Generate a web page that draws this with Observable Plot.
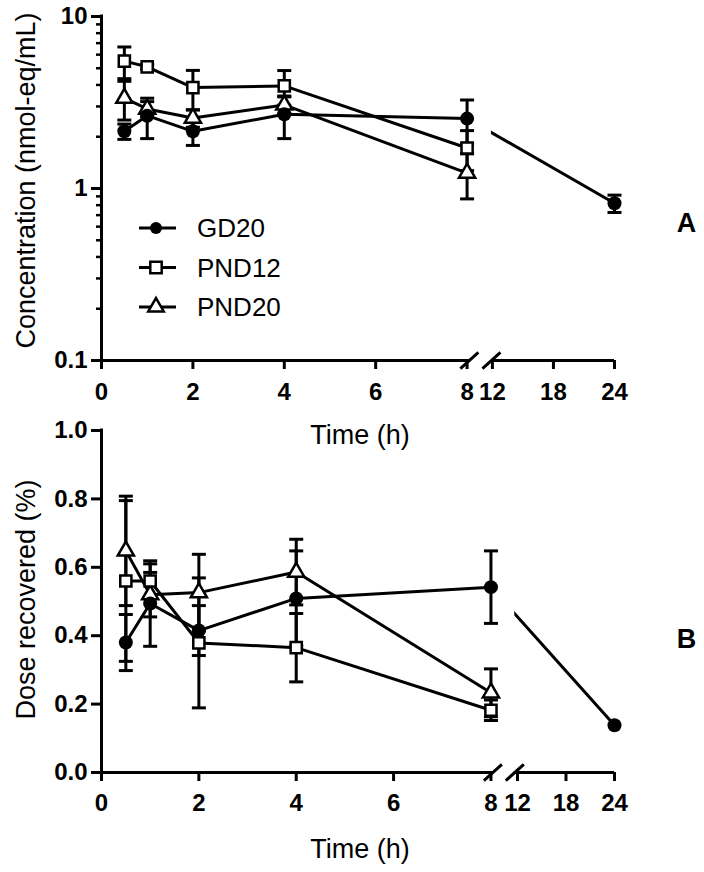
<!DOCTYPE html>
<html>
<head>
<meta charset="utf-8">
<script src="https://cdn.jsdelivr.net/npm/d3@7"></script>
<script src="https://cdn.jsdelivr.net/npm/@observablehq/plot@0.6"></script>
<style>
  body { margin: 0; background: #fff; }
  #wrap { position: relative; width: 704px; height: 872px; overflow: hidden; background: #fff;
          font-family: "Liberation Sans", Arial, sans-serif; color: #000; }
  #wrap > div, #wrap > svg { position: absolute; left: 0; }
</style>
</head>
<body>
<div id="wrap">
  <div id="pa" style="top:0px"></div>
  <div id="pb" style="top:420px"></div>
</div>
<script>
// ---------------- data ----------------
const seriesNames = ["GD20", "PND12", "PND20"];
const timeGD20 = [0.5, 1, 2, 4, 8, 24];
const timePND = [0.5, 1, 2, 4, 8];

// Panel A: concentration (nmol-eq/mL), mean and error
const concGD20 = [2.15, 2.65, 2.15, 2.7, 2.55, 0.82];
const concGD20Err = [0.22, 0.7, 0.37, 0.75, 0.72, 0.095];
const concPND12 = [5.5, 5.1, 3.86, 3.95, 1.72];
const concPND12Err = [1.15, 0.15, 1.0, 0.9, 0.45];
const concPND20 = [3.35, 2.9, 2.57, 3.06, 1.23];
const concPND20Err = [0.85, 0.3, 0.3, 0.35, 0.36];

// Panel B: dose recovered (%), mean and error
const doseGD20 = [0.38, 0.494, 0.415, 0.509, 0.542, 0.138];
const doseGD20Err = [0.082, 0.125, 0.073, 0.139, 0.106, 0];
const dosePND12 = [0.56, 0.56, 0.379, 0.365, 0.182];
const dosePND12Err = [0.235, 0.05, 0.19, 0.1, 0.03];
const dosePND20 = [0.648, 0.52, 0.526, 0.586, 0.233];
const dosePND20Err = [0.16, 0.065, 0.112, 0.096, 0.07];

// axis ticks
const xTickTimes = [0, 2, 4, 6, 8, 12, 18, 24];
const yTicksA = [0.1, 1, 10];
const yMinorTicksA = [0.2, 0.3, 0.4, 0.5, 0.6, 0.7, 0.8, 0.9, 2, 3, 4, 5, 6, 7, 8, 9];
const yTicksB = [0, 0.2, 0.4, 0.6, 0.8, 1.0];

// ---------------- helpers ----------------
function rows(s, times, vals, errs) {
  return times.map((t, i) => ({s, t, v: vals[i], e: errs[i]}));
}
const dataA = [
  ...rows("GD20", timeGD20, concGD20, concGD20Err),
  ...rows("PND12", timePND, concPND12, concPND12Err),
  ...rows("PND20", timePND, concPND20, concPND20Err)
];
const dataB = [
  ...rows("GD20", timeGD20, doseGD20, doseGD20Err),
  ...rows("PND12", timePND, dosePND12, dosePND12Err),
  ...rows("PND20", timePND, dosePND20, dosePND20Err)
];

const capSymbol = {draw(ctx, size) { const r = Math.sqrt(size / Math.PI); ctx.moveTo(-r, 0); ctx.lineTo(r, 0); }};
const slashSymbol = {draw(ctx, size) { const r = Math.sqrt(size / Math.PI); ctx.moveTo(-r, r * 0.9); ctx.lineTo(r, -r * 0.9); }};

const FONT = '"Liberation Sans", Arial, Helvetica, sans-serif';

function panel(cfg, data) {
  const brk = t => t <= 8 ? t : cfg.u12 + (t - 12) * (cfg.u24 - cfg.u12) / 12;
  const X = d => brk(d.t);
  const [y0, y1] = cfg.yDomain;
  const labelOf = new Map(xTickTimes.map(t => [brk(t), String(t)]));
  const withErr = data.filter(d => d.e > 0);
  const caps = withErr.flatMap(d => [{t: d.t, y: d.v - d.e}, {t: d.t, y: d.v + d.e}]);
  const bySeries = s => data.filter(d => d.s === s);
  const marks = [
    Plot.line(data, {x: X, y: "v", z: "s", stroke: "black", strokeWidth: 3}),
    Plot.rect([0], {x1: () => cfg.b1, x2: () => cfg.b2, y1: () => y0, y2: () => y1, fill: "white"}),
    // axis lines
    Plot.ruleX([0], {y1: () => y0, y2: () => y1, stroke: "black", strokeWidth: 3, strokeLinecap: "square"}),
    Plot.ruleY([y0], {x1: () => 0, x2: () => cfg.b1, stroke: "black", strokeWidth: 3}),
    Plot.ruleY([y0], {x1: () => cfg.b2, x2: () => cfg.u24, stroke: "black", strokeWidth: 3}),
    Plot.dot([cfg.b1, cfg.b2], {x: d => d, y: () => y0, symbol: slashSymbol, r: 9, stroke: "black", strokeWidth: 3, fill: "none"}),
    // axes
    Plot.axisX({ticks: xTickTimes.map(brk), tickFormat: u => labelOf.get(u), tickSize: 9, tickPadding: cfg.xPad,
      strokeWidth: 3, fontSize: 24, fontWeight: "bold", fontFamily: FONT, label: null}),
    Plot.axisY({ticks: cfg.yTicks, tickFormat: cfg.yFormat, tickSize: 10, tickPadding: 4,
      strokeWidth: 3, fontSize: 24, fontWeight: "bold", fontFamily: FONT, label: null}),
  ];
  if (cfg.yMinor) marks.push(Plot.axisY({ticks: cfg.yMinor, tickFormat: () => "", tickSize: 5, strokeWidth: 2.5, label: null}));
  marks.push(
    // error bars
    Plot.ruleX(withErr, {x: X, y1: d => d.v - d.e, y2: d => d.v + d.e, stroke: "black", strokeWidth: 3}),
    Plot.dot(caps, {x: X, y: "y", symbol: capSymbol, r: 7, stroke: "black", strokeWidth: 3, fill: "none"}),
    // markers
    Plot.dot(bySeries("PND20"), {x: X, y: "v", symbol: "triangle", r: 6, fill: "white", stroke: "black", strokeWidth: 2.5}),
    Plot.dot(bySeries("PND12"), {x: X, y: "v", symbol: "square", r: 6.3, fill: "white", stroke: "black", strokeWidth: 2.5}),
    Plot.dot(bySeries("GD20"), {x: X, y: "v", symbol: "circle", r: 7, fill: "black", stroke: "none"}),
    // titles
    Plot.text([cfg.xTitle], {frameAnchor: "bottom", dx: 2, dy: cfg.xTitleDy, fontSize: 27, fontFamily: FONT, lineAnchor: "middle", textAnchor: "middle", fill: "black"}),
    Plot.text([cfg.yTitle], {frameAnchor: "left", dx: -75, dy: cfg.yTitleDy, rotate: -90, fontSize: 27, fontFamily: FONT, lineAnchor: "middle", textAnchor: "middle", fill: "black"}),
    Plot.text([cfg.tag], {frameAnchor: "right", dx: 72, dy: cfg.tagDy, fontSize: 27, fontWeight: "bold", fontFamily: FONT, lineAnchor: "middle", textAnchor: "middle", fill: "black"})
  );
  return Plot.plot({
    width: 704, height: cfg.height,
    marginTop: cfg.mt, marginBottom: cfg.mb, marginLeft: 101, marginRight: 90,
    style: {background: "transparent", overflow: "visible", color: "black", fontFamily: FONT},
    x: {domain: [0, cfg.u24]},
    y: {type: cfg.yType, domain: cfg.yDomain},
    marks
  });
}

const pa = panel({
  height: 450, mt: 16, mb: 90,
  u12: 8.554, u24: 11.226, b1: 8.05, b2: 8.533,
  yType: "log", yDomain: [0.1, 10], yTicks: yTicksA, yMinor: yMinorTicksA, yFormat: d => String(d),
  xPad: 13, xTitle: "Time (h)", xTitleDy: 75,
  yTitle: "Concentration (nmol-eq/mL)", yTitleDy: -8, tag: "A", tagDy: 35
}, dataA);
document.getElementById("pa").appendChild(pa);

const pb = panel({
  height: 452, mt: 10, mb: 100,
  u12: 8.545, u24: 10.538, b1: 8.04, b2: 8.49,
  yType: "linear", yDomain: [0, 1], yTicks: yTicksB, yMinor: null, yFormat: d => d.toFixed(1),
  xPad: 12, xTitle: "Time (h)", xTitleDy: 77,
  yTitle: "Dose recovered (%)", yTitleDy: -2, tag: "B", tagDy: 38
}, dataB);
document.getElementById("pb").appendChild(pb);

// ---------------- legend (inside panel A) ----------------
const legendSym = {GD20: d3.symbolCircle, PND12: d3.symbolSquare, PND20: d3.symbolTriangle};
const legendSize = {GD20: Math.PI * 36, PND12: 130, PND20: 105};
const leg = d3.select("#wrap").append("svg")
  .attr("width", 200).attr("height", 120)
  .style("top", "205px").style("left", "130px");
seriesNames.forEach((s, i) => {
  const g = leg.append("g").attr("transform", `translate(0,${23 + i * 39.5})`);
  g.append("line").attr("x1", 9).attr("x2", 46).attr("y1", 0).attr("y2", 0).attr("stroke", "black").attr("stroke-width", 3);
  g.append("path").attr("transform", "translate(26,0)")
    .attr("d", d3.symbol(legendSym[s], legendSize[s])())
    .attr("fill", s === "GD20" ? "black" : "white")
    .attr("stroke", s === "GD20" ? "none" : "black").attr("stroke-width", 2.5);
  g.append("text").attr("x", 67).attr("y", 0).attr("dy", "0.35em")
    .attr("font-size", 26).attr("font-family", FONT).attr("fill", "black").text(s);
});
</script>
</body>
</html>
